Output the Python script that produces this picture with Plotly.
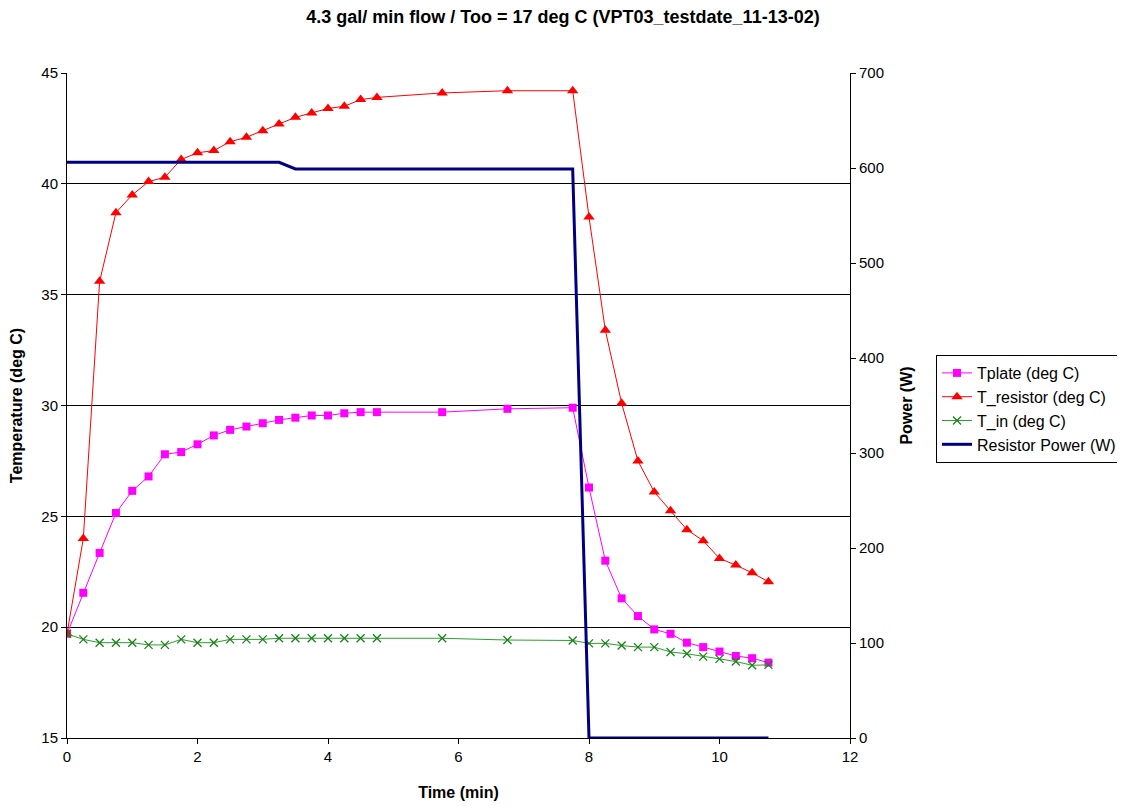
import plotly.graph_objects as go

time_min = [0, 0.25, 0.5, 0.75, 1.0, 1.25, 1.5, 1.75, 2.0, 2.25, 2.5, 2.75, 3.0, 3.25, 3.5, 3.75,
            4.0, 4.25, 4.5, 4.75, 5.75, 6.75, 7.75, 8.0, 8.25, 8.5, 8.75, 9.0, 9.25, 9.5, 9.75,
            10.0, 10.25, 10.5, 10.75]

t_plate = [19.7, 21.55, 23.35, 25.15, 26.15, 26.8, 27.8, 27.9, 28.25, 28.65, 28.9, 29.05, 29.2,
           29.35, 29.45, 29.55, 29.55, 29.65, 29.7, 29.7, 29.7, 29.85, 29.9, 26.3, 23.0, 21.3,
           20.5, 19.9, 19.7, 19.3, 19.1, 18.9, 18.7, 18.6, 18.4]

t_resistor = [19.7, 24.0, 35.6, 38.7, 39.5, 40.1, 40.3, 41.1, 41.4, 41.5, 41.9, 42.1, 42.4, 42.7,
              43.0, 43.2, 43.4, 43.5, 43.8, 43.9, 44.1, 44.2, 44.2, 38.5, 33.4, 30.1, 27.5,
              26.1, 25.25, 24.4, 23.9, 23.1, 22.8, 22.45, 22.05]

t_in = [19.7, 19.45, 19.3, 19.3, 19.3, 19.2, 19.2, 19.45, 19.3, 19.3, 19.45, 19.45, 19.45, 19.5,
        19.5, 19.5, 19.5, 19.5, 19.5, 19.5, 19.5, 19.42, 19.4, 19.27, 19.27, 19.17, 19.1, 19.1,
        18.88, 18.8, 18.67, 18.57, 18.45, 18.28, 18.3]

resistor_power = [606, 606, 606, 606, 606, 606, 606, 606, 606, 606, 606, 606, 606, 606, 599, 599,
                  599, 599, 599, 599, 599, 599, 599, 0, 0, 0, 0, 0, 0, 0, 0, 0, 0, 0, 0]

FONT = "Arial, Liberation Sans, sans-serif"
OFF = 8  # page body margin

W, H = 1125 - OFF, 806 - OFF

fig = go.Figure()
fig.add_trace(go.Scatter(x=time_min, y=t_plate, name="Tplate (deg C)", mode="lines+markers",
                         line=dict(color="#FF00FF", width=1),
                         marker=dict(symbol="square", size=8, color="#FF00FF")))
fig.add_trace(go.Scatter(x=time_min, y=t_resistor, name="T_resistor (deg C)", mode="lines+markers",
                         line=dict(color="#FF0000", width=1),
                         marker=dict(symbol="triangle-up", size=10, color="#FF0000")))
fig.add_trace(go.Scatter(x=time_min, y=t_in, name="T_in (deg C)", mode="lines+markers",
                         line=dict(color="#2E9E2E", width=1),
                         marker=dict(symbol="x-thin", size=8, color="#1A7F1A",
                                     line=dict(color="#1A7F1A", width=1.3))))
fig.add_trace(go.Scatter(x=time_min, y=resistor_power, name="Resistor Power (W)", mode="lines",
                         line=dict(color="#000080", width=3), yaxis="y2"))

fig.update_layout(
    width=W, height=H,
    margin=dict(l=67 - OFF, r=W + OFF - 850, t=73 - OFF, b=H + OFF - 738, autoexpand=False),
    paper_bgcolor="white", plot_bgcolor="white",
    font=dict(family=FONT, size=15, color="black"),
    title=dict(text="<b>4.3 gal/ min flow / Too = 17 deg C (VPT03_testdate_11-13-02)</b>",
               x=(563 - OFF) / W, xref="container", xanchor="center",
               y=1 - (17 - OFF) / H, yref="container",
               yanchor="middle", font=dict(family=FONT, size=18, color="black")),
    xaxis=dict(range=[0, 12], dtick=2, tick0=0, showgrid=False, zeroline=False,
               showline=True, linecolor="black", linewidth=1,
               ticks="outside", ticklen=5, tickcolor="black", automargin=False,
               title=dict(text="<b>Time (min)</b>", standoff=22, font=dict(size=16)),
               tickfont=dict(size=15)),
    yaxis=dict(range=[15, 45], dtick=5, tick0=15, showgrid=True, gridcolor="black", gridwidth=1,
               zeroline=False, showline=True, linecolor="black", linewidth=1,
               ticks="outside", ticklen=5, tickcolor="black", automargin=False,
               title=dict(text="<b>Temperature (deg C)</b>", standoff=14, font=dict(size=16)),
               tickfont=dict(size=15)),
    yaxis2=dict(range=[0, 700], dtick=100, tick0=0, overlaying="y", side="right",
                showgrid=False, zeroline=False, showline=True, linecolor="black", linewidth=1,
                ticks="outside", ticklen=5, tickcolor="black", automargin=False,
                title=dict(text="<b>Power (W)</b>", standoff=17, font=dict(size=16)),
                tickfont=dict(size=15)),
    legend=dict(x=(936 - 67) / 783, xanchor="left", y=(738 - 355) / 665, yanchor="top",
                bordercolor="black", borderwidth=1, bgcolor="white",
                font=dict(family=FONT, size=16), tracegroupgap=0),
    showlegend=True,
)

fig.write_html("out.html")
